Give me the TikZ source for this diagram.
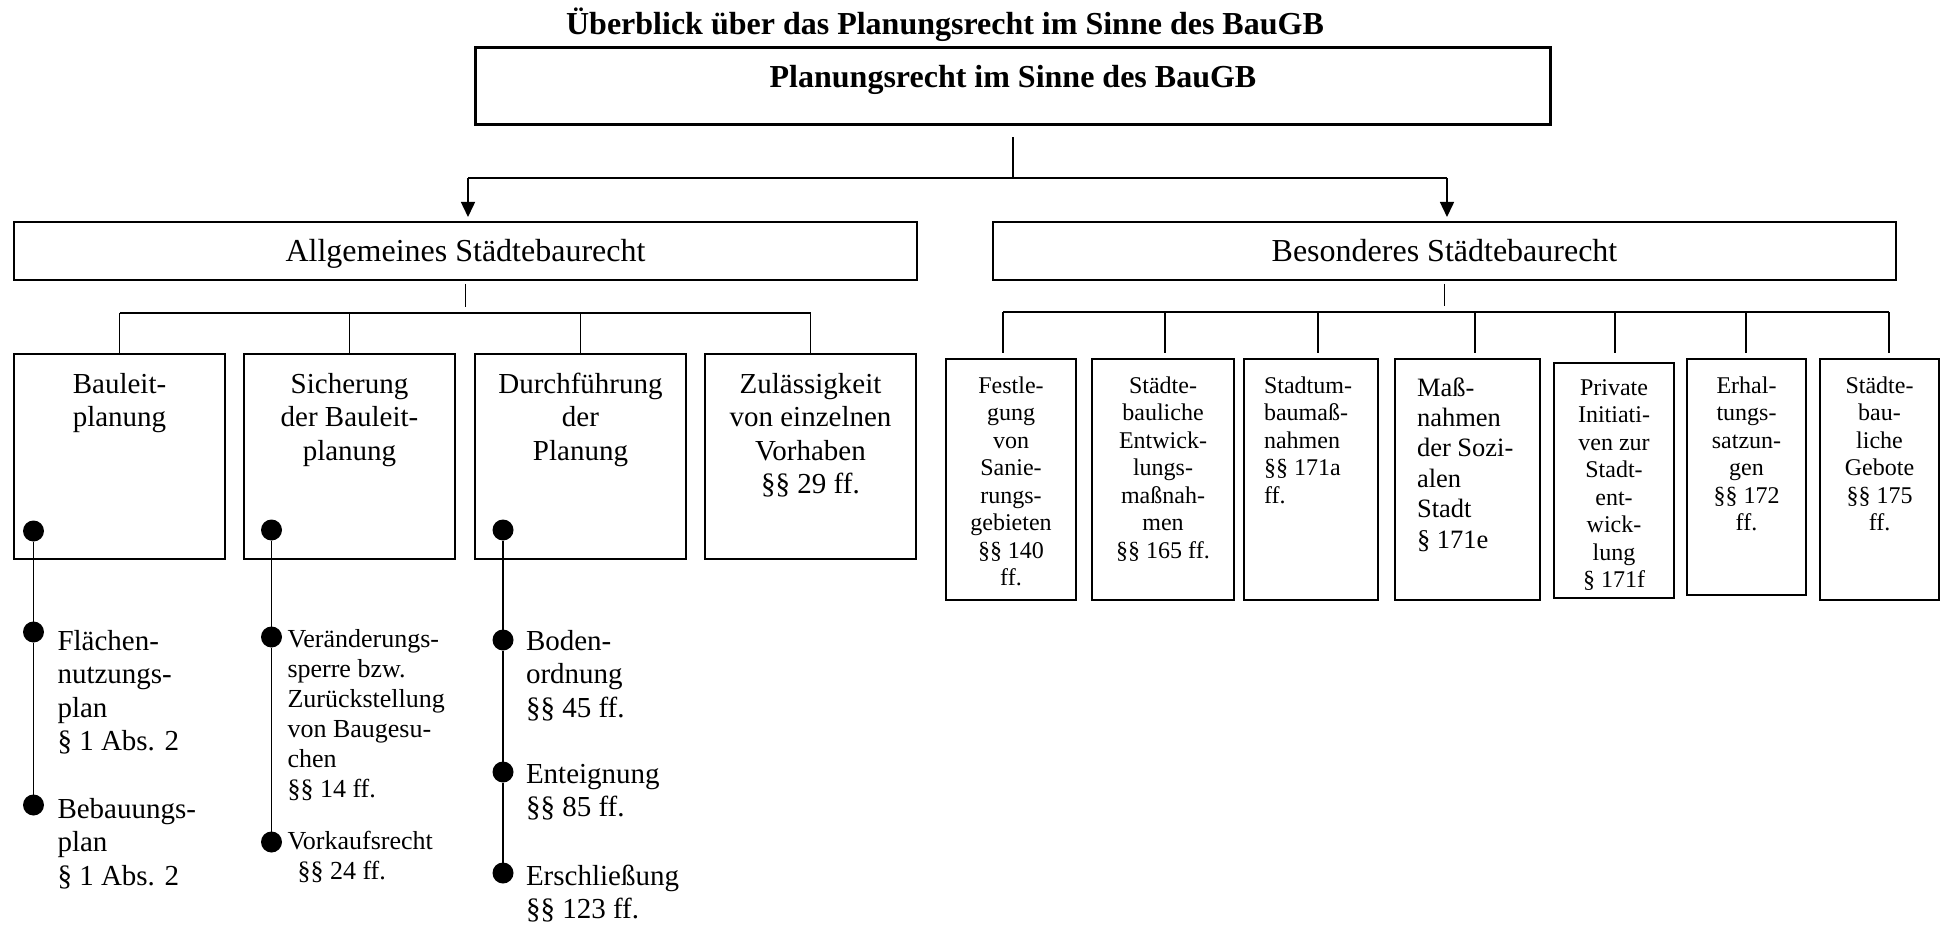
\documentclass[tikz,border=0pt]{standalone}
\usepackage{fontspec}
\setmainfont{Liberation Serif}
\usetikzlibrary{arrows.meta}
\begin{document}
\begin{tikzpicture}[x=0.5pt,y=-0.5pt,
  every node/.style={inner sep=0pt,outer sep=0pt},
  conn/.style={draw,line width=0.75pt},
  tip/.style={-{Triangle[width=7pt,length=7.5pt]}},
  frame/.style={draw,line width=0.85pt},
  mainbox/.style={draw,line width=1.65pt,minimum width=537.5pt,minimum height=38.5pt},
  areabox/.style={frame,minimum width=451.5pt,minimum height=29pt},
  fieldbox/.style={frame,minimum width=105.5pt,minimum height=102.5pt},
  dot/.style={circle,fill=black,minimum size=10.5pt},
  headfont/.style={font=\fontsize{16pt}{18pt}\selectfont\bfseries},
  areafont/.style={font=\fontsize{16pt}{18pt}\selectfont},
  fieldtext/.style={font=\fontsize{14.5pt}{16.75pt}\selectfont,align=center},
  itemtext/.style={font=\fontsize{14.5pt}{16.75pt}\selectfont,align=left},
  smallitem/.style={font=\fontsize{13pt}{15pt}\selectfont,align=left},
  toolbox/.style={font=\fontsize{12pt}{13.75pt}\selectfont,align=center},
  toolboxl/.style={font=\fontsize{12pt}{13.75pt}\selectfont,align=left},
]
\useasboundingbox (0,0) rectangle (1943,925);

% Heading and root box
\node[headfont,anchor=base] (ttl) at (945,35) {Überblick über das Planungsrecht im Sinne des BauGB};
\node[mainbox] (top) at (1013,86) {};
\node[headfont,anchor=base] (toptxt) at (1013,88) {Planungsrecht im Sinne des BauGB};

% The two branches of the law
\node[areabox] (allg) at (465.5,251) {};
\node[areafont,anchor=base] (allgtxt) at (465.5,262) {Allgemeines Städtebaurecht};
\node[areabox] (bes) at (1444.5,251) {};
\node[areafont,anchor=base] (bestxt) at (1444.5,262) {Besonderes Städtebaurecht};

\coordinate (hub) at (1013,178);
\coordinate (ha) at (468,178);
\coordinate (hb) at (1447,178);
\draw[conn] ([yshift=-6.5pt]top.south) -- (hub);
\draw[conn] (ha) -- (hb);
\draw[conn,tip,shorten >=2.5pt] (ha) -- (ha |- allg.north);
\draw[conn,tip,shorten >=2.5pt] (hb) -- (hb |- bes.north);

% General urban planning law: four fields
% (multi-line texts are anchored at the baseline of their last line)
\node[fieldbox] (b1) at (119.5,456.5) {};
\node[fieldbox] (b2) at (349.5,456.5) {};
\node[fieldbox] (b3) at (580.5,456.5) {};
\node[fieldbox] (b4) at (810.5,456.5) {};
\node[fieldtext,anchor=base] (bt1) at ([yshift=-36.25pt]b1.north) {Bauleit-\\planung};
\node[fieldtext,anchor=base] (bt2) at ([yshift=-53pt]b2.north) {Sicherung\\der Bauleit-\\planung};
\node[fieldtext,anchor=base] (bt3) at ([yshift=-53pt]b3.north) {Durchführung\\der\\Planung};
\node[fieldtext,anchor=base] (bt4) at ([yshift=-69.75pt]b4.north) {Zulässigkeit\\von einzelnen\\Vorhaben\\§§ 29 ff.};

\coordinate (lb1) at (119.5,313);
\coordinate (lb2) at (349.5,313);
\coordinate (lb3) at (580.5,313);
\coordinate (lb4) at (810.5,313);
\draw[conn] ([yshift=-2pt]allg.south) -- ([yshift=3pt]allg.south |- lb1);
\draw[conn,line width=0.9pt] (lb1) -- (lb4);
\foreach \k in {1,2,3,4} \draw[conn] (lb\k) -- (b\k.north);

% Instruments below the fields
\node[dot] (d11) at (33.5,531) {};
\node[dot] (d12) at (33.5,632) {};
\node[dot] (d13) at (33.5,805) {};
\node[dot] (d21) at (271.5,530) {};
\node[dot] (d22) at (271.5,637) {};
\node[dot] (d23) at (271.5,842) {};
\node[dot] (d31) at (503,530) {};
\node[dot] (d32) at (503,640) {};
\node[dot] (d33) at (503,772) {};
\node[dot] (d34) at (503,873) {};
\draw[conn] (d11) -- (d12) -- (d13);
\draw[conn] (d21) -- (d22) -- (d23);
\draw[conn] (d31) -- (d32) -- (d33) -- (d34);

\node[itemtext,anchor=base west] (i12) at (57.5,750.5) {Flächen-\\nutzungs-\\plan\\§ 1 Abs. 2};
\node[itemtext,anchor=base west] (i13) at (57.5,885) {Bebauungs-\\plan\\§ 1 Abs. 2};
\node[smallitem,anchor=base west] (i22) at (287.5,797) {Veränderungs-\\sperre bzw.\\Zurückstellung\\von Baugesu-\\chen\\§§ 14 ff.};
\node[smallitem,anchor=base west] (i23) at (287.5,879) {Vorkaufsrecht\\\hspace*{5pt}§§ 24 ff.};
\node[itemtext,anchor=base west] (i32) at (526,717) {Boden-\\ordnung\\§§ 45 ff.};
\node[itemtext,anchor=base west] (i33) at (526,816.5) {Enteignung\\§§ 85 ff.};
\node[itemtext,anchor=base west] (i34) at (526,918.5) {Erschließung\\§§ 123 ff.};

% Special urban planning law: seven instruments
\node[frame,minimum width=65pt,minimum height=120.5pt] (r1) at (1011,479.5) {};
\node[frame,minimum width=71pt,minimum height=120.5pt] (r2) at (1163,479.5) {};
\node[frame,minimum width=67pt,minimum height=120.5pt] (r3) at (1311,479.5) {};
\node[frame,minimum width=72.5pt,minimum height=120.5pt] (r4) at (1467.5,479.5) {};
\node[frame,minimum width=60pt,minimum height=117.5pt] (r5) at (1614,480.5) {};
\node[frame,minimum width=59.5pt,minimum height=118pt] (r6) at (1746.5,477) {};
\node[frame,minimum width=59.5pt,minimum height=120.5pt] (r7) at (1879.5,479.5) {};

\node[toolbox,anchor=base] (rt1) at ([yshift=-113.25pt]r1.north) {Festle-\\gung\\von\\Sanie-\\rungs-\\gebieten\\§§ 140\\ff.};
\node[toolbox,anchor=base] (rt2) at ([yshift=-99.5pt]r2.north) {Städte-\\bauliche\\Entwick-\\lungs-\\maßnah-\\men\\§§ 165 ff.};
\node[toolboxl,anchor=base west] (rt3) at ([xshift=10pt,yshift=-72pt]r3.north west) {Stadtum-\\baumaß-\\nahmen\\§§ 171a\\ff.};
\node[smallitem,font=\fontsize{13.25pt}{15.2pt}\selectfont,anchor=base west] (rt4) at ([xshift=11pt,yshift=-94.5pt]r4.north west) {Maß-\\nahmen\\der Sozi-\\alen\\Stadt\\§ 171e};
\node[toolbox,anchor=base] (rt5) at ([yshift=-112.25pt]r5.north) {Private\\Initiati-\\ven zur\\Stadt-\\ent-\\wick-\\lung\\§ 171f};
\node[toolbox,anchor=base] (rt6) at ([yshift=-85.75pt]r6.north) {Erhal-\\tungs-\\satzun-\\gen\\§§ 172\\ff.};
\node[toolbox,anchor=base] (rt7) at ([yshift=-85.75pt]r7.north) {Städte-\\bau-\\liche\\Gebote\\§§ 175\\ff.};

\coordinate (rb1) at (1003,312);
\coordinate (rb2) at (1165,312);
\coordinate (rb3) at (1318,312);
\coordinate (rb4) at (1475,312);
\coordinate (rb5) at (1615,312);
\coordinate (rb6) at (1746,312);
\coordinate (rb7) at (1889,312);
\draw[conn] ([yshift=-2pt]bes.south) -- ([yshift=3pt]bes.south |- rb1);
\draw[conn,line width=0.9pt] (rb1) -- (rb7);
\foreach \k in {1,2,3,4,6,7} \draw[conn,shorten >=3pt] (rb\k) -- (rb\k |- r\k.north);
\draw[conn,shorten >=5pt] (rb5) -- (rb5 |- r5.north);
\end{tikzpicture}
\end{document}
